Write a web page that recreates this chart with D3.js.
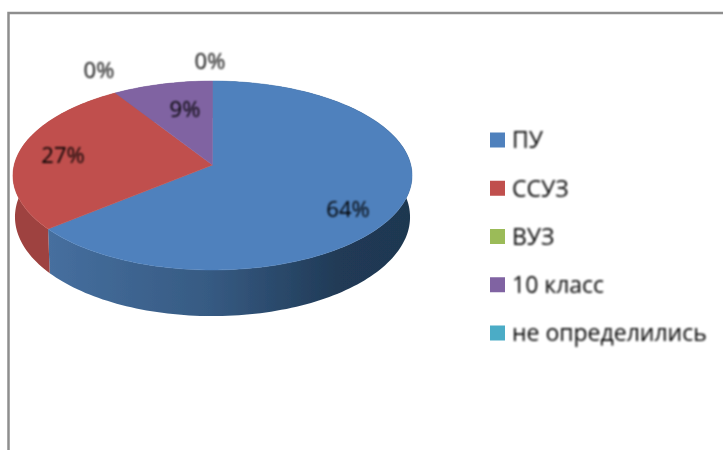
<!DOCTYPE html>
<html>
<head>
<meta charset="utf-8">
<script src="https://cdn.jsdelivr.net/npm/d3@7"></script>
<style>
  html, body { margin: 0; padding: 0; background: #fff; }
  svg { display: block; }
  text { font-family: "Open Sans", sans-serif; fill: #000; }
</style>
</head>
<body>
<div id="pie_chart"></div>
<script>
// chart data
let categories = ['ПУ', 'ССУЗ', 'ВУЗ', '10 класс', 'не определились'];
let shares = [64, 27, 0, 9, 0];
let colors = ['#4f81bd', '#c0504d', '#9bbb59', '#8064a2', '#4bacc6'];

// configuration of svg/plot area
let config = {
    svg: {width: 723, height: 450},
    pie: {cx: 212.5, cy: 165, rx: 198.3, ry: 93.3, tilt: 1 / 9, depth: 41, baseScale: 0.99},
    legend: {x: 490, text: 512, size: 15, top: 140, bottom: 333, fontSize: 23},
    labelSize: 22
};

// where Excel left each percent label, same order as categories
let labelPos = [[348, 209], [63, 155], [99, 70], [185, 109], [210, 61]];

let svg = d3.select('#pie_chart')
    .append('svg')
        .attr('width', config.svg.width)
        .attr('height', config.svg.height);

let defs = svg.append('defs');

// the reference is a blurry upscale
defs.append('filter').attr('id', 'soft')
    .append('feGaussianBlur').attr('stdDeviation', 0.6);
defs.append('filter').attr('id', 'softText')
    .append('feGaussianBlur').attr('stdDeviation', 0.8);

let wallGradient = defs.append('linearGradient')
    .attr('id', 'blueWall')
    .attr('gradientUnits', 'userSpaceOnUse')
    .attr('x1', 47).attr('x2', 412).attr('y1', 0).attr('y2', 0);
wallGradient.selectAll('stop')
    .data([[0, '#466f9f'], [0.45, '#365a82'], [0.8, '#203a56'], [1, '#1f3750']])
    .join('stop')
        .attr('offset', d => d[0])
        .attr('stop-color', d => d[1]);

// frame: only top and left edges are in the crop
svg.append('path')
    .attr('d', d3.line()([[723, 13], [8.5, 13], [8.5, 450]]))
    .attr('fill', 'none')
    .attr('stroke', '#8e8e8e')
    .attr('stroke-width', 2.5)
    .attr('filter', 'url(#soft)');

// project an angle on the pie disc, with a bit of perspective
function rim(angle, r = 1) {
    let u = Math.sin(angle) * r, v = Math.cos(angle) * r;
    let w = 1 + config.pie.tilt * v;
    return [config.pie.cx + config.pie.rx * u / w, config.pie.cy - config.pie.ry * v / w];
}

function baseRim(angle) {
    let u = Math.sin(angle), v = Math.cos(angle);
    let w = 1 + config.pie.tilt * v;
    return [
        config.pie.cx + config.pie.baseScale * config.pie.rx * u / w,
        config.pie.cy - config.pie.ry * v / w + config.pie.depth / w
    ];
}

function angles(d) {
    let n = Math.max(2, Math.ceil((d.endAngle - d.startAngle) * 40));
    return d3.range(n + 1).map(i => d.startAngle + (d.endAngle - d.startAngle) * i / n);
}

let line = d3.line();

let slices = d3.pie().sort(null).value(d => d)(shares)
    .map((d, i) => ({...d, i}))
    .filter(d => d.value > 0);

let pie = svg.append('g').attr('filter', 'url(#soft)');

// side walls first, the top hides whatever is at the back
pie.selectAll('path.wall')
    .data(slices)
    .join('path')
        .attr('class', 'wall')
        .attr('fill', d => d.i === 0 ? 'url(#blueWall)' : d3.color(colors[d.i]).darker(0.55))
        .attr('d', d => {
            let a = angles(d);
            return line(a.map(x => rim(x)).concat(a.slice().reverse().map(baseRim))) + 'Z';
        });

pie.selectAll('path.top')
    .data(slices)
    .join('path')
        .attr('class', 'top')
        .attr('fill', d => colors[d.i])
        .attr('stroke', d => colors[d.i])
        .attr('stroke-width', 0.5)
        .attr('d', d => line([rim(0, 0)].concat(angles(d).map(x => rim(x)))) + 'Z');

// percent labels
svg.append('g')
    .attr('filter', 'url(#softText)')
    .selectAll('text')
    .data(shares)
    .join('text')
        .attr('x', (d, i) => labelPos[i][0])
        .attr('y', (d, i) => labelPos[i][1])
        .attr('dy', '0.36em')
        .attr('text-anchor', 'middle')
        .attr('font-size', config.labelSize)
        .text(d => d + '%');

// legend
let rowY = d3.scalePoint()
    .domain(categories)
    .range([config.legend.top, config.legend.bottom]);

let legend = svg.append('g')
    .selectAll('g')
    .data(categories)
    .join('g')
        .attr('transform', d => `translate(0,${rowY(d)})`);

legend.append('rect')
    .attr('x', config.legend.x)
    .attr('y', -config.legend.size / 2)
    .attr('width', config.legend.size)
    .attr('height', config.legend.size)
    .attr('filter', 'url(#soft)')
    .attr('fill', (d, i) => colors[i]);

legend.append('text')
    .attr('x', config.legend.text)
    .attr('dy', '0.36em')
    .attr('font-size', config.legend.fontSize)
    .attr('filter', 'url(#softText)')
    .text(d => d);
</script>
</body>
</html>
